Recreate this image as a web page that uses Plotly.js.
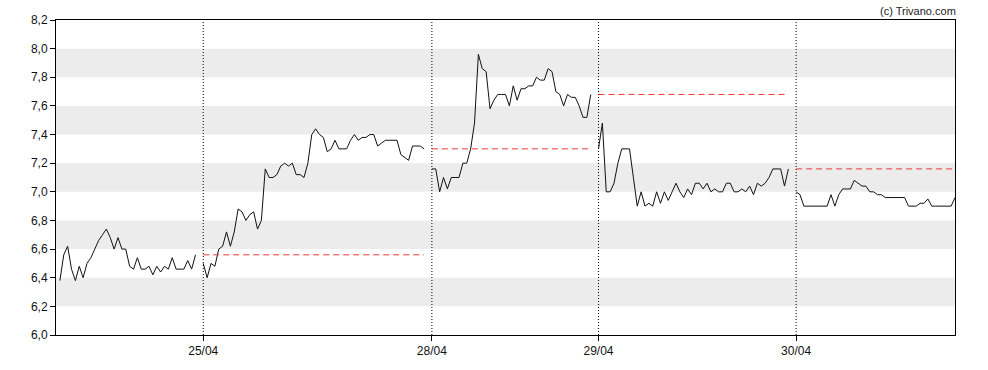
<!DOCTYPE html>
<html>
<head>
<meta charset="utf-8">
<script src="https://cdn.plot.ly/plotly-3.0.1.min.js"></script>
<style>html,body{margin:0;padding:0;background:#fff}#chart{width:988px;height:370px}</style>
</head>
<body>
<div id="chart"></div>
<script>
// Intraday prices per session (one value per time slot)
const day1 = [6.38,6.56,6.62,6.46,6.38,6.48,6.40,6.50,6.54,6.60,6.66,6.70,6.74,6.68,6.60,6.68,6.60,6.60,6.48,6.46,6.54,6.46,6.46,6.48,6.42,6.48,6.44,6.48,6.46,6.54,6.46,6.46,6.46,6.52,6.46,6.56];
const day2 = [6.50,6.40,6.50,6.48,6.60,6.62,6.72,6.62,6.72,6.88,6.86,6.80,6.84,6.86,6.74,6.80,7.16,7.10,7.10,7.12,7.18,7.20,7.18,7.20,7.12,7.12,7.10,7.20,7.40,7.44,7.40,7.38,7.28,7.30,7.36,7.30,7.30,7.30,7.36,7.40,7.36,7.38,7.38,7.40,7.40,7.32,7.34,7.36,7.36,7.36,7.36,7.26,7.24,7.22,7.32,7.32,7.32,7.30];
const day3 = [7.16,7.16,7.00,7.10,7.02,7.10,7.10,7.10,7.20,7.20,7.30,7.48,7.96,7.86,7.84,7.58,7.64,7.68,7.68,7.68,7.60,7.74,7.64,7.72,7.72,7.74,7.74,7.80,7.78,7.78,7.86,7.84,7.70,7.68,7.60,7.68,7.66,7.66,7.60,7.52,7.52,7.68];
const day4 = [7.30,7.48,7.00,7.00,7.06,7.20,7.30,7.30,7.30,7.10,6.90,7.00,6.90,6.92,6.90,7.00,6.92,7.00,6.94,7.00,7.06,7.00,6.96,7.02,6.98,7.06,7.06,7.02,7.06,7.00,7.02,7.00,7.00,7.06,7.06,7.00,7.00,7.02,7.00,7.04,6.98,7.06,7.04,7.06,7.10,7.16,7.16,7.16,7.04,7.16];
const day5 = [7.00,6.98,6.90,6.90,6.90,6.90,6.90,6.90,6.90,6.98,6.90,6.98,7.02,7.02,7.02,7.08,7.06,7.04,7.04,7.00,7.00,6.98,6.98,6.96,6.96,6.96,6.96,6.96,6.96,6.90,6.90,6.90,6.92,6.92,6.95,6.90,6.90,6.90,6.90,6.90,6.90,6.96];
const days = [day1, day2, day3, day4, day5];
// Previous-session close reference for sessions 2..5
const prevClose = [6.56, 7.30, 7.68, 7.16];
const dayLabels = ['25/04', '28/04', '29/04', '30/04'];
const yTicks = [6.0,6.2,6.4,6.6,6.8,7.0,7.2,7.4,7.6,7.8,8.0,8.2];

const traces = [];
const starts = [];
let pos = 0;
days.forEach(function(d){
  starts.push(pos);
  const xs = d.map(function(_, i){ return pos + i; });
  traces.push({x: xs, y: d, type: 'scatter', mode: 'lines', line: {color: '#111', width: 1}, hoverinfo: 'skip', showlegend: false});
  pos += d.length + 1;
});
const lastX = pos - 2;
prevClose.forEach(function(v, k){
  const s = starts[k+1];
  const e = s + days[k+1].length - 1;
  traces.push({x: [s, e], y: [v, v], type: 'scatter', mode: 'lines', line: {color: '#ee3535', width: 1, dash: '6px,4px'}, hoverinfo: 'skip', showlegend: false});
});

const shapes = [];
for (let i = 1; i < yTicks.length - 1; i += 2) {
  shapes.push({type: 'rect', xref: 'paper', yref: 'y', x0: 0, x1: 1, y0: yTicks[i], y1: yTicks[i+1], fillcolor: '#ececec', line: {width: 0}, layer: 'below'});
}
starts.slice(1).forEach(function(s){
  shapes.push({type: 'line', xref: 'x', yref: 'paper', x0: s, x1: s, y0: 0, y1: 1, line: {color: '#000', width: 1, dash: '1px,2px'}, layer: 'above'});
});

const layout = {
  width: 988, height: 370,
  margin: {l: 56, r: 33, t: 20, b: 35},
  paper_bgcolor: '#fff', plot_bgcolor: '#fff',
  separators: ', ',
  font: {family: 'Liberation Sans, Arial, sans-serif', size: 12, color: '#111'},
  xaxis: {
    range: [-1, lastX], showgrid: false, zeroline: false,
    tickmode: 'array', tickvals: starts.slice(1), ticktext: dayLabels,
    ticks: 'outside', ticklen: 5, tickcolor: '#000',
    showline: true, linecolor: '#000', linewidth: 1, mirror: true,
    fixedrange: true
  },
  yaxis: {
    range: [6.0, 8.2], showgrid: false, zeroline: false,
    tickmode: 'array', tickvals: yTicks, tickformat: '.1f',
    ticks: 'outside', ticklen: 5, tickcolor: '#000',
    showline: true, linecolor: '#000', linewidth: 1, mirror: true,
    fixedrange: true
  },
  shapes: shapes,
  annotations: [{
    text: '(c) Trivano.com', xref: 'paper', yref: 'paper', x: 1, y: 1,
    xanchor: 'right', yanchor: 'bottom', xshift: 3, yshift: 1, showarrow: false,
    font: {family: 'Liberation Sans, Arial, sans-serif', size: 11, color: '#222'}
  }]
};

Plotly.newPlot('chart', traces, layout, {displayModeBar: false, staticPlot: true});
</script>
</body>
</html>
